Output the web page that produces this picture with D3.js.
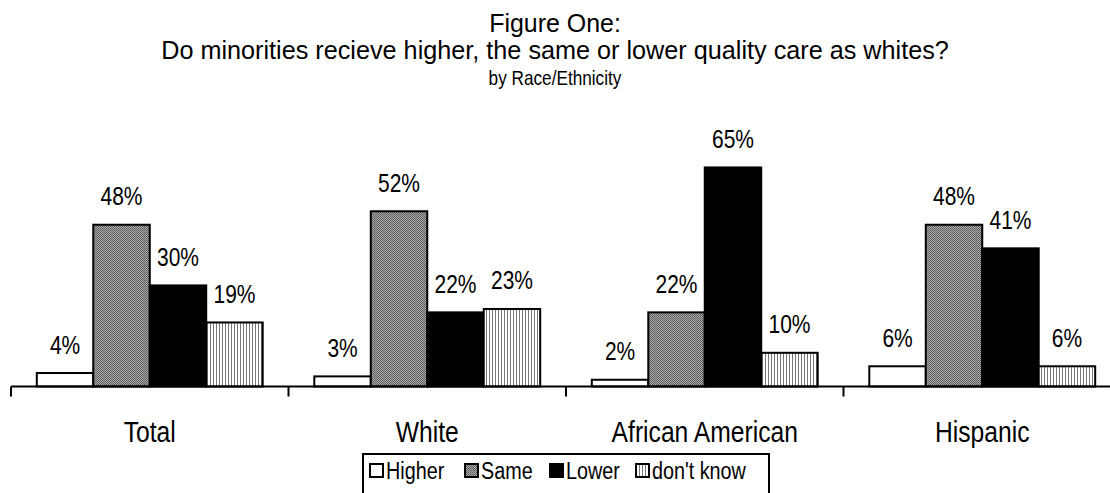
<!DOCTYPE html>
<html><head><meta charset="utf-8">
<script src="https://cdn.jsdelivr.net/npm/d3@7"></script>
<style>
html,body{margin:0;padding:0;background:#fff;}
svg{display:block;}
text{font-family:"Liberation Sans Narrow","Arial Narrow","Liberation Sans",Arial,sans-serif;fill:#000;}
</style></head>
<body>
<svg id="chart" width="1110" height="493"></svg>
<script>
const categories = ["Total", "White", "African American", "Hispanic"];
const seriesNames = ["Higher", "Same", "Lower", "don't know"];
const higher = [4, 3, 2, 6];
const same = [48, 52, 22, 48];
const lower = [30, 22, 65, 41];
const dontKnow = [19, 23, 10, 6];
const seriesValues = [higher, same, lower, dontKnow];

const svg = d3.select("#chart");
const defs = svg.append("defs");

// patterns
const pSame = defs.append("pattern").attr("id","pSame").attr("patternUnits","userSpaceOnUse").attr("width",2).attr("height",2);
pSame.append("rect").attr("width",2).attr("height",2).attr("fill","#aaa");
pSame.append("rect").attr("width",1).attr("height",1).attr("fill","#555");
pSame.append("rect").attr("x",1).attr("y",1).attr("width",1).attr("height",1).attr("fill","#666");
const pDK = defs.append("pattern").attr("id","pDK").attr("patternUnits","userSpaceOnUse").attr("width",3).attr("height",3);
pDK.append("rect").attr("width",3).attr("height",3).attr("fill","#fff");
pDK.append("rect").attr("x",0).attr("width",1).attr("height",3).attr("fill","#777");
const fills = ["#fff", "url(#pSame)", "#000", "url(#pDK)"];

// condensed text helper
function ctext(sel, x, yy, size, sx, anchor, str) {
  return sel.append("text")
    .attr("transform", `translate(${x},${yy}) scale(${sx},1)`)
    .attr("text-anchor", anchor).style("font-size", size + "px").text(str);
}

const axisY = 386.5;
const x0 = d3.scaleBand().domain(categories).range([11, 11 + 4*277.5]).paddingInner(0.186).paddingOuter(0.093);
const x1 = d3.scaleBand().domain(seriesNames).range([0, x0.bandwidth()]);
const y = d3.scaleLinear().domain([0, 100]).range([axisY, axisY - 337]);

// titles
ctext(svg, 555, 32, 26, 0.96, "middle", "Figure One:");
ctext(svg, 555, 59, 26, 0.97, "middle", "Do minorities recieve higher, the same or lower quality care as whites?");
ctext(svg, 555, 85, 20, 0.86, "middle", "by Race/Ethnicity");

// bars
const data = [];
categories.forEach((c, ci) => seriesNames.forEach((s, si) => data.push({c, s, si, v: seriesValues[si][ci]})));
const g = svg.append("g");
g.selectAll("rect.bar").data(data).join("rect").attr("class","bar")
  .attr("x", d => x0(d.c) + x1(d.s))
  .attr("y", d => y(d.v))
  .attr("width", x1.bandwidth())
  .attr("height", d => axisY - y(d.v))
  .attr("fill", d => fills[d.si])
  .attr("stroke","#000").attr("stroke-width",2);
g.selectAll("text.lbl").data(data).join("text").attr("class","lbl")
  .attr("transform", d => `translate(${x0(d.c) + x1(d.s) + x1.bandwidth()/2},${y(d.v) - 19.5}) scale(0.84,1)`)
  .attr("text-anchor","middle").style("font-size","25px")
  .text(d => d.v + "%");

// axis
const axisG = svg.append("g").attr("transform", `translate(0,${axisY})`);
axisG.append("line").attr("x1",11).attr("x2",1110).attr("y1",0).attr("y2",0).attr("stroke","#000").attr("stroke-width",2);
const tickPos = categories.map(c => x0(c) - x0.step()*x0.paddingOuter());
axisG.selectAll("line.tick").data(tickPos).join("line").attr("class","tick")
  .attr("x1", d => d).attr("x2", d => d).attr("y1",0).attr("y2",10)
  .attr("stroke","#000").attr("stroke-width",2);
axisG.selectAll("text.cat").data(categories).join("text").attr("class","cat")
  .attr("transform", c => `translate(${x0(c) + x0.bandwidth()/2},55.5) scale(0.85,1)`)
  .attr("text-anchor","middle").style("font-size","29px").text(c => c);

// legend
const lg = svg.append("g");
lg.append("rect").attr("x",363).attr("y",454).attr("width",406).attr("height",60).attr("fill","#fff").attr("stroke","#000").attr("stroke-width",2);
const legX = [370, 465, 550, 636];
seriesNames.forEach((s, i) => {
  lg.append("rect").attr("x",legX[i]).attr("y",464).attr("width",13).attr("height",13).attr("fill",fills[i]).attr("stroke","#000").attr("stroke-width",2);
  ctext(lg, legX[i]+16, 479, 23, 0.86, "start", s);
});
</script>
</body></html>
